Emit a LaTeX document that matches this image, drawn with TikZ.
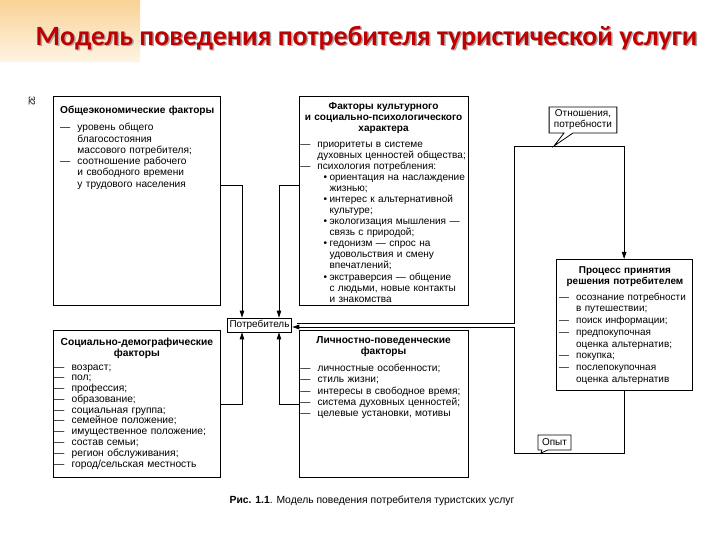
\documentclass[tikz,border=0pt]{standalone}
\usepackage{fontspec}
\setmainfont{Liberation Sans}
\newfontfamily\titlefont{Carlito}
\usetikzlibrary{arrows.meta, positioning, shapes.callouts}
\definecolor{titlered}{RGB}{192,0,0}
\definecolor{patchtop}{RGB}{249,210,150}
\definecolor{patchbot}{RGB}{254,244,228}

\newcommand{\itm}[1]{\par\noindent\hangindent=1.7em\hangafter=1\makebox[1.7em][l]{—}#1\par}
\newcommand{\bul}[1]{\par\noindent\hangindent=2.9em\hangafter=1\hspace*{2.3em}\makebox[0.6em][l]{•}#1\par}

\begin{document}
\begin{tikzpicture}[
  x=1bp, y=-1bp,
  frame/.style={
    draw, line width=0.8bp, inner sep=0pt, anchor=north west
  },
  txt/.style={
    inner sep=0pt, align=left, anchor=north west,
    execute at begin node={\lineskiplimit=-4pt},
    font=\fontsize{10.2}{11.3}\selectfont
  },
  arr/.style={-{Triangle[length=7bp,width=4.5bp]}, line width=0.8bp},
  note/.style={
    rectangle callout, draw, fill=white, line width=0.8bp,
    inner sep=2bp, align=center, font=\fontsize{10}{11}\selectfont
  }
]
\useasboundingbox (0,0) rectangle (720,540);
\fill[white] (0,0) rectangle (720,540);

% ── Slide header ──
\shade[top color=patchtop, bottom color=patchbot] (0,0) rectangle (140,62);
\node[text=black!35, font=\titlefont\bfseries\fontsize{28}{28}\selectfont] (titleshadow) at (368,39.5) {Модель поведения потребителя туристической услуги};
\node[text=titlered, font=\titlefont\bfseries\fontsize{28}{28}\selectfont] (title) at (366.5,38) {Модель поведения потребителя туристической услуги};
\node[rotate=-90, font=\fontsize{9}{9}\selectfont] (pagenum) at (32,101) {32};

% ── Factor frames ──
\node[frame, minimum width=168, minimum height=210] (econ) at (53,96) {};
\node[frame, minimum width=169, minimum height=210, right=78bp of econ.north east, anchor=north west] (cult) {};
\node[frame, minimum width=168, minimum height=148, below=24bp of econ.south west, anchor=north west] (socdem) {};
\node[frame, minimum width=169, minimum height=148, below=24bp of cult.south west, anchor=north west] (pers) {};

% ── Consumer, decision process ──
\node[draw, line width=0.8bp, minimum width=65, minimum height=14, inner sep=1bp,
  font=\fontsize{10}{10}\selectfont] (potr) at (259.5,325) {Потребитель};
\node[frame, minimum width=136, minimum height=131] (proc) at (556,259) {};

% ── Frame texts ──
\node[txt, text width=156, below right=10bp and 7bp of econ.north west] (econtxt) {%
  {\bfseries Общеэкономические факторы}\par\vspace{6bp}
  \itm{уровень общего\newline благосостояния\newline массового потребителя;}
  \itm{соотношение рабочего\newline и свободного времени\newline у трудового населения}};

\node[txt, text width=167, below right=6bp and 1bp of cult.north west,
  font=\fontsize{10.1}{11.1}\selectfont] (culttxt) {%
  {\centering\bfseries Факторы культурного\\ и социально-психологического\\ характера\par}\vspace{5bp}
  \itm{приоритеты в системе\newline духовных ценностей общества;}
  \itm{психология потребления:}
  \bul{ориентация на наслаждение\newline жизнью;}
  \bul{интерес к альтернативной\newline культуре;}
  \bul{экологизация мышления —\newline связь с природой;}
  \bul{гедонизм — спрос на\newline удовольствия и смену\newline впечатлений;}
  \bul{экстраверсия — общение\newline с людьми, новые контакты\newline и знакомства}};

\node[txt, text width=166, below right=8bp and 1bp of socdem.north west,
  font=\fontsize{10.3}{10.8}\selectfont] (socdemtxt) {%
  {\centering\bfseries Социально-демографические\\ факторы\par}\vspace{3bp}
  \itm{возраст;}
  \itm{пол;}
  \itm{профессия;}
  \itm{образование;}
  \itm{социальная группа;}
  \itm{семейное положение;}
  \itm{имущественное положение;}
  \itm{состав семьи;}
  \itm{регион обслуживания;}
  \itm{город/сельская местность}};

\node[txt, text width=167, below right=6bp and 1bp of pers.north west,
  font=\fontsize{10.2}{11.5}\selectfont] (perstxt) {%
  {\centering\bfseries Личностно-поведенческие\\ факторы\par}\vspace{5bp}
  \itm{личностные особенности;}
  \itm{стиль жизни;}
  \itm{интересы в свободное время;}
  \itm{система духовных ценностей;}
  \itm{целевые установки, мотивы}};

\node[txt, text width=132, below right=7bp and 3bp of proc.north west,
  font=\fontsize{10}{11.8}\selectfont] (proctxt) {%
  {\centering\bfseries Процесс принятия\\ решения потребителем\par}\vspace{3.5bp}
  \itm{осознание потребности\newline в путешествии;}
  \itm{поиск информации;}
  \itm{предпокупочная\newline оценка альтернатив;}
  \itm{покупка;}
  \itm{послепокупочная\newline оценка альтернатив}};

% ── Arrows: factors to consumer ──
\draw[arr] ([yshift=16bp]econ.east) -| ([xshift=-17.5bp]potr.north);
\draw[arr] ([yshift=16bp]cult.west) -| ([xshift=19.5bp]potr.north);
\draw[arr] (socdem.east) -| ([xshift=-17.5bp]potr.south);
\draw[arr] (pers.west) -| ([xshift=19.5bp]potr.south);

% ── Feedback loops ──
\coordinate (otnturn) at (514,146);
\coordinate (opytturn) at (514,453);
\draw[arr] ([xshift=5bp,yshift=2bp]potr.east) -| (otnturn) -| (proc.north);
\draw[arr] (proc.south) |- (opytturn) |- ([yshift=-2bp]potr.east);

% ── Callouts ──
\node[note, minimum width=68, minimum height=26, callout pointer width=9bp,
  callout absolute pointer={(554,146)}] (otn) at (583,120) {Отношения,\\ потребности};
\node[note, minimum width=33, minimum height=15, inner sep=1bp, callout pointer width=6bp,
  callout absolute pointer={(541,453)}] (opyt) at (554.5,442.5) {Опыт};

% ── Caption ──
\node[font=\fontsize{10.4}{11}\selectfont] (caption) at (372,501)
  {\textbf{Рис. 1.1}. Модель поведения потребителя туристских услуг};

\end{tikzpicture}
\end{document}
